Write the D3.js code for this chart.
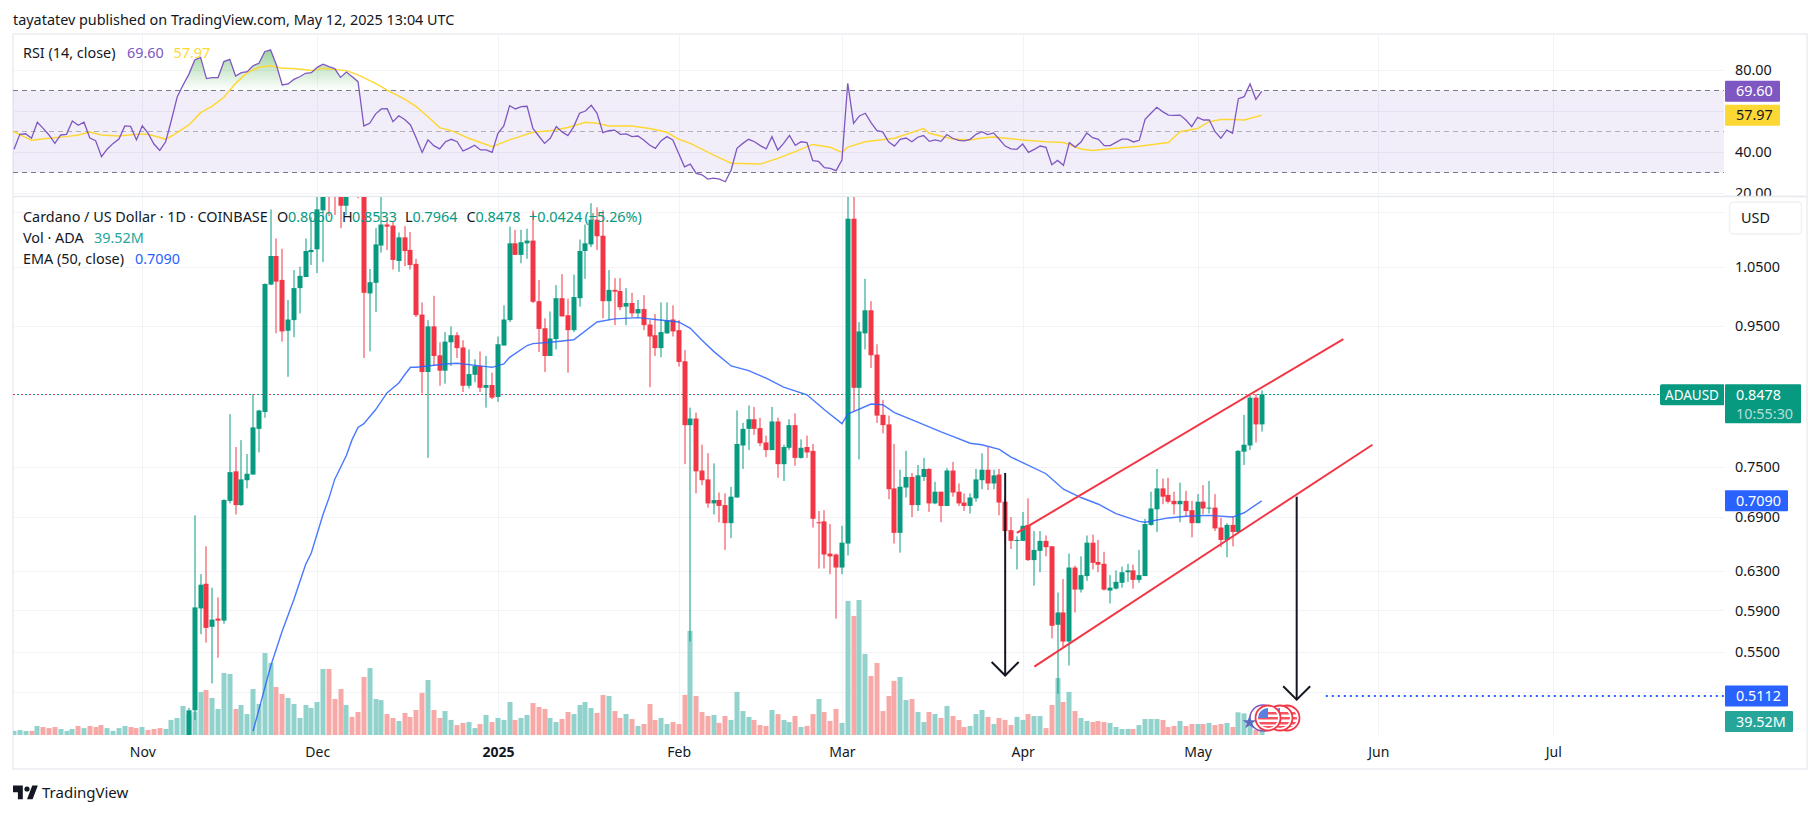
<!DOCTYPE html>
<html>
<head>
<meta charset="utf-8">
<script src="https://cdn.jsdelivr.net/npm/d3@7"></script>
<style>
html, body { margin: 0; padding: 0; background: #fff; }
svg { display: block; }
text { font-family: "Noto Sans", sans-serif; }
</style>
</head>
<body>
<svg id="chart" width="1814" height="814"></svg>
<script>
// first day of the rsi and volume lists, candles start later (older ones sit below the pane)
var firstDay = Date.UTC(2024, 9, 10);
var candleFirstDay = Date.UTC(2024, 10, 9);

var opens = [
	.465,.499,.592,.617,.574,.582,.580,.709,.745,.704,.734,.741,.800,.823,1.019,1.069,1.027,.943,.960,1.013,
	1.032,1.076,1.081,1.154,1.24,1.20,1.21,1.163,1.19,1.25,1.20,1.004,1.022,1.088,1.127,1.125,1.060,1.103,1.080,1.055,
	.969,.880,.950,.905,.882,.925,.936,.917,.860,.876,.889,.857,.861,.844,.920,.960,1.092,1.071,1.092,1.097,
	.991,.947,.904,.930,.996,.968,.944,.996,1.078,1.090,1.136,1.106,.991,1.010,1.008,.982,.988,.971,.978,.953,
	.936,.916,.939,.961,.944,.896,.805,.814,.746,.735,.706,.710,.704,.683,.713,.778,.800,.813,.801,.782,
	.772,.810,.754,.775,.805,.762,.776,.771,.684,.685,.649,.648,.634,.660,1.138,.857,.939,.976,.906,.819,
	.806,.724,.672,.725,.738,.704,.738,.748,.706,.720,.703,.746,.720,.707,.703,.712,.734,.747,.730,.741,
	.708,.675,.663,.663,.681,.642,.652,.663,.657,.576,.588,.560,.634,.611,.625,.661,.640,.638,.610,.612,
	.618,.629,.631,.621,.625,.681,.699,.724,.716,.709,.705,.709,.698,.683,.708,.700,.701,.678,.664,.681,
	.673,.770,.778,.843,.8060
];
var highs = [
	.501,.692,.627,.657,.613,.603,.711,.820,.776,.785,.767,.848,.826,1.021,1.156,1.101,1.082,.993,1.044,1.050,
	1.101,1.141,1.19,1.28,1.33,1.28,1.25,1.25,1.26,1.27,1.22,1.046,1.120,1.18,1.136,1.134,1.112,1.124,1.113,1.064,
	.989,.960,1.000,.925,.941,.950,.941,.928,.914,.899,.911,.904,.879,.934,.984,1.123,1.117,1.117,1.119,1.154,
	1.027,.963,.974,1.018,1.037,.995,1.036,1.099,1.127,1.168,1.160,1.154,1.044,1.030,1.030,1.013,1.005,.993,1.001,.960,
	.970,.989,.989,.984,.960,.913,.829,.822,.779,.768,.755,.719,.718,.726,.825,.808,.832,.830,.815,.791,
	.830,.815,.779,.813,.821,.786,.791,.780,.697,.698,.682,.649,.680,1.20,1.19,.957,1.029,.991,.922,.840,
	.818,.780,.747,.771,.743,.753,.762,.749,.732,.720,.749,.757,.730,.718,.718,.748,.768,.776,.747,.748,
	.714,.690,.668,.696,.712,.674,.674,.669,.657,.608,.622,.649,.636,.646,.669,.670,.664,.651,.626,.631,
	.635,.638,.637,.653,.688,.720,.748,.736,.737,.720,.731,.721,.709,.717,.728,.733,.717,.689,.683,.691,
	.772,.819,.848,.848,.8533
];
var lows = [
	.460,.491,.567,.559,.522,.545,.577,.706,.693,.703,.724,.741,.769,.815,1.018,.939,.926,.873,.933,.971,
	1.032,1.053,1.039,1.058,1.143,1.145,1.120,1.145,1.185,1.178,.901,.911,.973,1.075,1.080,1.045,1.041,1.051,1.045,.965,
	.849,.762,.889,.860,.863,.889,.901,.851,.856,.865,.851,.829,.841,.837,.920,.957,1.071,1.056,1.064,.988,
	.910,.880,.904,.914,.966,.879,.941,.982,1.029,1.085,1.080,.963,.960,.952,.976,.952,.965,.965,.944,.858,
	.904,.902,.938,.934,.888,.754,.560,.718,.728,.701,.693,.684,.653,.666,.713,.748,.772,.792,.777,.763,
	.772,.737,.733,.772,.752,.761,.762,.678,.633,.633,.627,.582,.627,.647,.823,.760,.914,.886,.808,.794,
	.711,.660,.650,.713,.690,.697,.733,.696,.705,.684,.703,.714,.703,.697,.694,.708,.723,.722,.723,.692,
	.660,.654,.632,.663,.641,.615,.629,.646,.563,.513,.555,.538,.588,.608,.620,.632,.629,.610,.597,.611,
	.613,.619,.612,.618,.625,.680,.673,.705,.706,.693,.684,.691,.667,.683,.693,.694,.674,.656,.645,.657,
	.673,.753,.772,.782,.7964
];
var closes = [
	.499,.593,.616,.573,.581,.580,.710,.744,.704,.735,.742,.802,.825,1.020,1.069,1.024,.942,.961,1.013,1.034,
	1.078,1.080,1.156,1.24,1.20,1.19,1.163,1.19,1.22,1.20,1.005,1.023,1.090,1.127,1.123,1.062,1.103,1.078,1.053,.968,
	.880,.950,.904,.882,.926,.936,.916,.860,.877,.889,.857,.861,.843,.922,.961,1.092,1.071,1.094,1.097,.990,
	.946,.904,.931,.996,.966,.944,.998,1.078,1.092,1.136,1.105,.991,1.010,1.007,.981,.988,.971,.978,.952,.934,
	.916,.941,.960,.942,.895,.805,.814,.745,.734,.706,.710,.703,.683,.714,.780,.800,.813,.800,.781,.772,
	.810,.754,.776,.805,.762,.775,.769,.688,.683,.648,.646,.634,.661,1.138,.857,.942,.976,.905,.818,.805,
	.723,.672,.726,.738,.704,.740,.748,.706,.720,.703,.746,.719,.706,.703,.713,.735,.747,.730,.740,.707,
	.674,.663,.664,.680,.642,.653,.663,.656,.575,.588,.560,.634,.611,.626,.661,.639,.637,.611,.613,.619,
	.629,.631,.621,.626,.682,.700,.724,.714,.708,.705,.709,.697,.683,.708,.700,.701,.677,.664,.681,.673,
	.771,.779,.843,.806,.8478
];

// millions of ADA, one per day from firstDay
var volumes = [
	23,28,23,23,51,45,39,45,34,23,34,51,39,51,45,56,39,23,39,51,45,39,
	45,28,34,39,34,85,96,164,113,132,243,254,209,147,350,344,147,169,118,259,175,462,406,271,231,209,175,96,169,152,
	186,372,372,203,259,169,102,130,327,378,203,197,118,96,79,124,102,141,237,310,141,96,135,85,56,68,73,39,62,113,73,
	96,85,186,85,96,113,180,158,147,96,73,90,130,118,169,186,152,124,226,220,135,96,118,90,51,62,175,85,96,62,73,62,226,587,220,130,107,113,68,107,85,243,135,102,85,56,51,141,118,85,73,107,45,51,118,203,130,79,147,68,
	756,671,761,457,333,406,135,220,305,327,197,203,130,73,130,118,96,164,107,85,45,51,118,141,102,62,96,85,56,102,
	85,118,107,107,39,169,321,186,243,135,96,79,73,79,73,68,45,34,34,34,56,90,90,90,85,45,51,79,51,62,
	62,62,68,56,62,68,45,128,122,75,30,39.52
];
var volumeUp = [
	1,1,1,0,1,0,0,0,1,1,1,0,1,0,0,0,1,1,1,1,0,0,
	1,0,0,0,1,1,1,1,1,1,1,0,1,1,1,1,0,1,1,1,1,1,1,0,0,1,1,1,1,1,
	1,1,0,0,0,1,0,0,0,1,1,1,0,0,1,0,0,0,0,1,0,0,1,1,0,0,1,1,0,1,0,
	1,1,1,0,1,1,0,0,0,1,1,0,0,1,1,1,1,0,0,1,0,0,1,0,1,0,0,0,1,1,0,0,0,1,0,0,0,1,0,0,1,1,1,1,0,0,0,1,0,1,1,0,1,0,0,1,0,0,0,1,
	1,0,1,1,0,0,0,0,0,1,1,0,1,1,0,1,0,1,0,0,0,1,1,1,0,1,0,0,0,1,
	1,0,1,1,0,0,1,0,1,0,1,1,0,0,0,1,1,1,1,0,1,1,1,1,0,0,0,1,0,0,
	1,0,1,0,0,1,0,1,1,1,0,1
];

var rsiValues = [
	41.3,48.6,48.9,46.7,54.5,51.5,48.3,44.2,48.3,48.6,55.1,53.0,54.5,46.8,45.5,37.7,41.5,44.2,46.3,52.7,52.5,45.9,
	52.8,49.1,43.9,40.8,45.0,55.6,67.0,72.7,78.0,84.9,86.2,75.8,76.3,76.3,84.1,85.2,77.1,78.7,79.2,82.1,83.3,88.9,89.8,82.4,72.7,73.2,75.4,76.7,78.4,78.7,
	81.3,82.8,81.6,80.7,76.4,79.0,76.7,74.3,52.7,54.0,58.5,61.0,61.1,54.8,57.7,55.9,53.2,46.7,39.8,45.9,43.1,41.5,45.0,46.2,45.0,40.5,41.8,43.3,41.0,41.0,39.8,
	49.1,52.7,62.6,61.0,62.1,62.3,51.5,47.8,44.2,46.8,52.4,49.8,48.0,52.4,58.9,60.0,62.8,58.9,49.4,50.4,50.7,48.6,48.8,47.5,47.8,45.9,43.4,41.8,45.5,47.5,45.9,39.3,32.8,34.1,29.6,28.9,26.8,27.3,26.8,25.5,31.2,41.8,44.2,46.2,45.0,43.1,41.5,47.5,41.0,44.2,48.1,43.3,45.0,44.6,35.8,35.4,32.4,32.0,30.9,36.1,
	73.5,54.0,57.6,58.9,54.3,50.4,49.8,45.0,42.9,46.2,46.8,45.0,47.2,48.0,45.2,45.9,45.2,48.5,46.7,45.7,45.4,46.2,48.6,49.9,48.5,49.3,46.2,42.9,41.5,41.3,
	43.9,39.8,41.3,42.9,42.3,33.8,35.9,33.5,44.6,42.4,44.9,49.3,47.0,46.2,43.1,43.1,44.7,46.3,46.3,44.9,45.7,55.9,58.9,61.8,59.7,58.0,57.9,58.0,55.6,52.4,
	56.9,55.6,55.6,49.9,46.7,50.7,49.1,66.0,67.0,73.2,65.7,69.60
];

var rsiMaDays = [0,3,6,9,11,13,15,18,21,23,26,27,30,32,34,36,38,40,42,44,46,48,51,53,55,57,59,62,64,67,69,71,73,75,78,82,85,89,92,95,98,100,102,106,109,112,114,116,120,123,128,131,134,137,140,142,143,146,151,156,157,161,164,166,168,173,177,180,183,185,188,193,198,200,203,205,207,209,211,214];
var rsiMaValues = [49.9,45.7,46.7,47.5,48.3,49.8,48.3,47.8,48.6,48.6,46.3,47.8,53.2,59.2,62.4,66.7,73.5,78.7,81.3,82.1,80.8,80.7,79.7,80.8,80.3,79.7,77.6,73.5,70.2,65.8,62.1,57.2,51.9,50.4,46.7,42.6,45.9,49.6,50.4,52.0,54.5,54.0,52.7,52.7,51.5,49.6,46.2,44.2,38.5,34.5,34.1,36.9,40.2,43.7,42.3,39.8,42.4,45.0,46.7,51.4,49.1,46.3,45.9,46.8,47.3,45.9,45.0,44.6,41.5,40.7,41.6,42.8,44.6,49.9,51.5,54.8,55.9,55.9,55.6,57.97];
var emaDays = [41,44,46,48,50,51,53,54,55,57,58,59,60,62,64,66,67,68,69,74,76,81,82,84,85,88,89,92,96,100,103,107,110,114,116,118,120,123,126,129,132,136,139,142,143,147,149,151,155,159,161,164,166,169,171,173,177,180,183,186,189,193,194,198,201,205,209,211,214];
var emaValues = [.482,.537,.570,.601,.637,.650,.693,.712,.735,.765,.786,.802,.807,.826,.850,.864,.876,.887,.887,.892,.893,.888,.887,.892,.902,.920,.923,.925,.929,.957,.962,.964,.961,.957,.947,.928,.911,.889,.882,.871,.858,.847,.826,.807,.820,.834,.833,.822,.809,.796,.790,.781,.779,.773,.763,.756,.742,.723,.713,.705,.694,.685,.684,.689,.691,.692,.690,.695,.7090];

// grid lines; the scale hides the labels of the ones sitting under a tag
var rsiTicks = [80, 60, 40, 20];
var rsiLabels = [80, 40, 20];
var rsiLevels = [70, 50, 30];
var priceTicks = [1.15, 1.05, 0.95, 0.75, 0.69, 0.63, 0.59, 0.55, 0.515];
var priceLabels = [1.05, 0.95, 0.75, 0.69, 0.63, 0.59, 0.55];
var monthTicks = [[2024,10,'Nov'],[2024,11,'Dec'],[2025,0,'2025'],[2025,1,'Feb'],[2025,2,'Mar'],[2025,3,'Apr'],[2025,4,'May'],[2025,5,'Jun'],[2025,6,'Jul']];

// drawings on the chart, as day and price
var upperChannel = [[Date.UTC(2025,2,31), .672], [Date.UTC(2025,4,26), .930]];
var lowerChannel = [[Date.UTC(2025,3,3), .537], [Date.UTC(2025,4,31), .779]];
var arrowOne = [Date.UTC(2025,2,29), .743, .529];
var arrowTwo = [Date.UTC(2025,4,18), .714, .508];
var targetPrice = 0.5112, targetFrom = Date.UTC(2025,4,23);
var lastPrice = 0.8478, lastRsi = 69.60, lastRsiMa = 57.97, lastEma = 0.7090;

var GREEN = '#089981', RED = '#f23645', BLUE = '#2962ff', PURPLE = '#7e57c2', YELLOW = '#fdd835', INK = '#131722', GRID = '#f2f3f6';
var FONT = 14.4;

var left = 13, right = 1724, rsiTop = 34, rsiBottom = 196, priceTop = 197, priceBottom = 735;
var frameRight = 1807, frameBottom = 769;

var svg = d3.select('#chart');
var defs = svg.append('defs');

var x = d3.scaleUtc().domain([Date.UTC(2024,10,1), Date.UTC(2025,4,12)]).range([142.3, 1261.7]);
var yRsi = d3.scaleLinear().domain([80, 20]).range([70, 193]);
var yPrice = d3.scaleLog().domain([1.05, 0.55]).range([266.7, 652.3]);
var yVol = d3.scaleLinear().domain([0, 761]).range([priceBottom, 600]);

function dayAt(start, i){ return d3.utcDay.offset(new Date(start), i); }
function rounded(v){ return Math.round(v) + 0.5; }

defs.append('clipPath').attr('id', 'clip-rsi').append('rect')
	.attr('x', left).attr('y', rsiTop).attr('width', right - left).attr('height', rsiBottom - rsiTop);
defs.append('clipPath').attr('id', 'clip-price').append('rect')
	.attr('x', left).attr('y', priceTop).attr('width', right - left).attr('height', priceBottom - priceTop);

var glow = defs.append('linearGradient').attr('id', 'overbought')
	.attr('gradientUnits', 'userSpaceOnUse')
	.attr('x1', 0).attr('x2', 0).attr('y1', yRsi(90)).attr('y2', yRsi(70));
glow.append('stop').attr('offset', 0).attr('stop-color', '#4caf50').attr('stop-opacity', 0.55);
glow.append('stop').attr('offset', 1).attr('stop-color', '#4caf50').attr('stop-opacity', 0);

// frame
svg.append('rect').attr('x', 13).attr('y', 34).attr('width', frameRight - 13).attr('height', frameBottom - 34)
	.attr('fill', '#fff').attr('stroke', '#f0f1f4').attr('stroke-width', 2);
svg.append('line').attr('x1', 13).attr('x2', frameRight).attr('y1', 196.5).attr('y2', 196.5)
	.attr('stroke', '#e8e9ed').attr('stroke-width', 1.5);

// grid
var monthDates = monthTicks.map(function(m){ return new Date(Date.UTC(m[0], m[1], 1)); });

function vGrid(top, bottom){
	var g = svg.append('g').attr('transform', 'translate(0,' + bottom + ')')
		.call(d3.axisBottom(x).tickValues(monthDates).tickSize(-(bottom - top)).tickFormat(''));
	g.select('.domain').remove();
	g.selectAll('line').attr('stroke', GRID).attr('shape-rendering', 'crispEdges');
}
function hGrid(scale, ticks){
	var g = svg.append('g').attr('transform', 'translate(' + right + ',0)')
		.call(d3.axisLeft(scale).tickValues(ticks).tickSize(right - left).tickFormat(''));
	g.select('.domain').remove();
	g.selectAll('line').attr('stroke', GRID).attr('shape-rendering', 'crispEdges');
}
vGrid(rsiTop, rsiBottom);
vGrid(priceTop, priceBottom);
hGrid(yRsi, rsiTicks);
hGrid(yPrice, priceTicks);

// rsi pane
var rsiPane = svg.append('g').attr('clip-path', 'url(#clip-rsi)');
rsiPane.append('rect')
	.attr('x', left).attr('width', right - left)
	.attr('y', yRsi(70)).attr('height', yRsi(30) - yRsi(70))
	.attr('fill', PURPLE).attr('fill-opacity', 0.1);
rsiPane.selectAll('.level').data(rsiLevels).enter().append('line')
	.attr('x1', left).attr('x2', right)
	.attr('y1', function(d){ return yRsi(d); })
	.attr('y2', function(d){ return yRsi(d); })
	.attr('stroke', function(d){ return d === 50 ? '#b2aeb8' : '#787b86'; })
	.attr('stroke-dasharray', '5,4');

var rsiPoints = rsiValues.map(function(v, i){ return { day: dayAt(firstDay, i), v: v }; });
rsiPane.append('path').datum(rsiPoints)
	.attr('fill', 'url(#overbought)')
	.attr('d', d3.area()
		.x(function(d){ return x(d.day); })
		.y0(yRsi(70))
		.y1(function(d){ return yRsi(Math.max(d.v, 70)); }));
rsiPane.append('path').datum(rsiMaDays.map(function(d, i){ return { day: dayAt(firstDay, d), v: rsiMaValues[i] }; }))
	.attr('fill', 'none').attr('stroke', YELLOW).attr('stroke-width', 1.5)
	.attr('d', d3.line().x(function(d){ return x(d.day); }).y(function(d){ return yRsi(d.v); }));
rsiPane.append('path').datum(rsiPoints)
	.attr('fill', 'none').attr('stroke', PURPLE).attr('stroke-width', 1.3)
	.attr('d', d3.line().x(function(d){ return x(d.day); }).y(function(d){ return yRsi(d.v); }));

// price pane
var pricePane = svg.append('g').attr('clip-path', 'url(#clip-price)');

pricePane.selectAll('.vol').data(volumes).enter().append('rect')
	.attr('x', function(d, i){ return Math.round(x(dayAt(firstDay, i))) - 2.5; })
	.attr('width', 5)
	.attr('y', function(d){ return yVol(d); })
	.attr('height', function(d){ return priceBottom - yVol(d); })
	.attr('fill', function(d, i){ return volumeUp[i] ? '#92d2cc' : '#f7a9a7'; });

// price line, red dots between teal ones up to the last candle
pricePane.append('line')
	.attr('x1', left).attr('x2', right)
	.attr('y1', yPrice(lastPrice)).attr('y2', yPrice(lastPrice))
	.attr('stroke', GREEN).attr('stroke-dasharray', '2,2').attr('shape-rendering', 'crispEdges');
pricePane.append('line')
	.attr('x1', left).attr('x2', x(dayAt(candleFirstDay, opens.length - 1)))
	.attr('y1', yPrice(lastPrice)).attr('y2', yPrice(lastPrice))
	.attr('stroke', RED).attr('stroke-dasharray', '2,6').attr('shape-rendering', 'crispEdges');

var candles = opens.map(function(o, i){
	return { day: dayAt(candleFirstDay, i), o: o, h: highs[i], l: lows[i], c: closes[i] };
});
var candle = pricePane.selectAll('.candle').data(candles).enter().append('g')
	.attr('fill', function(d){ return d.c >= d.o ? GREEN : RED; })
	.attr('stroke', function(d){ return d.c >= d.o ? GREEN : RED; });
candle.append('line')
	.attr('x1', function(d){ return rounded(x(d.day)) - 0.5; })
	.attr('x2', function(d){ return rounded(x(d.day)) - 0.5; })
	.attr('y1', function(d){ return yPrice(d.h); })
	.attr('y2', function(d){ return yPrice(d.l); })
	.attr('stroke-width', 1);
candle.append('rect')
	.attr('x', function(d){ return Math.round(x(d.day)) - 2.5; })
	.attr('width', 5)
	.attr('y', function(d){ return yPrice(Math.max(d.o, d.c)); })
	.attr('height', function(d){ return Math.max(1, Math.abs(yPrice(d.o) - yPrice(d.c))); })
	.attr('stroke', 'none');

pricePane.append('path').datum(emaDays.map(function(d, i){ return { day: dayAt(firstDay, d), v: emaValues[i] }; }))
	.attr('fill', 'none').attr('stroke', BLUE).attr('stroke-opacity', 0.85).attr('stroke-width', 1.4)
	.attr('d', d3.line().x(function(d){ return x(d.day); }).y(function(d){ return yPrice(d.v); }));

// drawings
[upperChannel, lowerChannel].forEach(function(c){
	pricePane.append('line')
		.attr('x1', x(new Date(c[0][0]))).attr('y1', yPrice(c[0][1]))
		.attr('x2', x(new Date(c[1][0]))).attr('y2', yPrice(c[1][1]))
		.attr('stroke', RED).attr('stroke-width', 2);
});
[arrowOne, arrowTwo].forEach(function(a){
	var ax = x(new Date(a[0])), ay = yPrice(a[2]);
	pricePane.append('line')
		.attr('x1', ax).attr('x2', ax).attr('y1', yPrice(a[1])).attr('y2', ay)
		.attr('stroke', INK).attr('stroke-width', 2);
	pricePane.append('path')
		.attr('d', 'M' + (ax - 13.5) + ',' + (ay - 13.5) + 'L' + ax + ',' + ay + 'L' + (ax + 13.5) + ',' + (ay - 13.5))
		.attr('fill', 'none').attr('stroke', INK).attr('stroke-width', 2);
});
pricePane.append('line')
	.attr('x1', x(new Date(targetFrom))).attr('x2', right)
	.attr('y1', yPrice(targetPrice)).attr('y2', yPrice(targetPrice))
	.attr('stroke', BLUE).attr('stroke-width', 2).attr('stroke-dasharray', '2,4');

// upcoming events badges
var badgeX = [1287, 1280, 1268], badgeY = 718;
defs.append('clipPath').attr('id', 'clip-flag').append('circle').attr('r', 10);
svg.append('circle').attr('cx', 1263).attr('cy', badgeY).attr('r', 13).attr('fill', 'none').attr('stroke', PURPLE).attr('stroke-width', 1.5);
svg.append('path').attr('transform', 'translate(1249.5,722.5)')
	.attr('d', d3.symbol().type(d3.symbolStar).size(60)).attr('fill', '#5c6bc0');
badgeX.forEach(function(bx){
	var b = svg.append('g').attr('transform', 'translate(' + bx + ',' + badgeY + ')');
	b.append('circle').attr('r', 12.5).attr('fill', '#fff').attr('stroke', RED).attr('stroke-width', 1.8);
	var f = b.append('g').attr('clip-path', 'url(#clip-flag)');
	f.append('rect').attr('x', -10).attr('y', -10).attr('width', 20).attr('height', 20).attr('fill', '#fff');
	[-6, -1, 4, 8].forEach(function(sy){
		f.append('rect').attr('x', -10).attr('y', sy).attr('width', 20).attr('height', 2.5).attr('fill', '#f7525f');
	});
	f.append('rect').attr('x', -10).attr('y', -10).attr('width', 10).attr('height', 10).attr('fill', '#5b7fe0');
});

// axes
var rsiAxis = svg.append('g').attr('transform', 'translate(1735,0)')
	.call(d3.axisRight(yRsi).tickValues(rsiLabels).tickSize(0).tickPadding(0).tickFormat(d3.format('.2f')));
var priceAxis = svg.append('g').attr('transform', 'translate(1735,0)')
	.call(d3.axisRight(yPrice).tickValues(priceLabels).tickSize(0).tickPadding(0).tickFormat(d3.format('.4f')));
[rsiAxis, priceAxis].forEach(function(g){
	g.select('.domain').remove();
	g.selectAll('text').attr('font-size', FONT).attr('fill', INK).style('font-family', '"Noto Sans", sans-serif');
});
// 20.00 is cut by the pane border
svg.append('rect').attr('x', 1726).attr('y', 196).attr('width', 70).attr('height', 5).attr('fill', '#fff');
svg.append('line').attr('x1', 1724).attr('x2', frameRight).attr('y1', 196.5).attr('y2', 196.5)
	.attr('stroke', '#e8e9ed').attr('stroke-width', 1.5);

var dateAxis = svg.append('g').attr('transform', 'translate(0,747)')
	.call(d3.axisBottom(x).tickValues(monthDates).tickSize(0).tickPadding(0)
		.tickFormat(function(d, i){ return monthTicks[i][2]; }));
dateAxis.select('.domain').remove();
dateAxis.selectAll('text')
	.attr('font-size', 14).attr('fill', INK)
	.style('font-family', '"Noto Sans", sans-serif')
	.attr('font-weight', function(d, i){ return monthTicks[i][2] === '2025' ? 700 : 400; });

// value tags on the scale
function tag(y, h, w, fill, label, color){
	svg.append('rect').attr('x', 1725).attr('y', y).attr('width', w).attr('height', h).attr('rx', 1).attr('fill', fill);
	svg.append('text').attr('x', 1736).attr('y', y + 15.5).attr('font-size', FONT).attr('fill', color).text(label);
}
tag(yRsi(lastRsi) - 10.5, 21, 55, PURPLE, '69.60', '#fff');
tag(yRsi(lastRsiMa) - 10.5, 21, 55, YELLOW, '57.97', INK);
tag(yPrice(lastEma) - 10.5, 21, 63, BLUE, '0.7090', '#fff');
tag(yPrice(targetPrice) - 10.5, 21, 63, BLUE, '0.5112', '#fff');
tag(711, 21, 68, '#26a69a', '39.52M', '#fff');

var lastY = yPrice(lastPrice);
svg.append('rect').attr('x', 1725).attr('y', lastY - 10).attr('width', 76).attr('height', 39).attr('rx', 1).attr('fill', GREEN);
svg.append('text').attr('x', 1736).attr('y', lastY + 5.5).attr('font-size', FONT).attr('fill', '#fff').text('0.8478');
svg.append('text').attr('x', 1736).attr('y', lastY + 24.5).attr('font-size', FONT).attr('fill', '#fff').attr('fill-opacity', 0.7).text('10:55:30');
svg.append('path').attr('d', 'M1724,' + (lastY - 10) + 'H1662a2,2 0 0 0 -2,2V' + (lastY + 9) + 'a2,2 0 0 0 2,2H1724Z').attr('fill', GREEN);
svg.append('text').attr('x', 1665).attr('y', lastY + 5.5).attr('font-size', 13.5).attr('fill', '#fff').text('ADAUSD');

svg.append('rect').attr('x', 1729.5).attr('y', 202).attr('width', 72).attr('height', 32).attr('rx', 4)
	.attr('fill', '#fff').attr('stroke', '#f0f1f4').attr('stroke-width', 1.5);
svg.append('text').attr('x', 1741).attr('y', 223).attr('font-size', FONT).attr('fill', INK).text('USD');

// legends
function legend(y, parts){
	parts.forEach(function(p){
		svg.append('text').attr('x', p[0]).attr('y', y).attr('font-size', FONT).attr('fill', p[2] || INK).text(p[1]);
	});
}
legend(58, [[23, 'RSI (14, close)'], [127, '69.60', PURPLE], [173.5, '57.97', YELLOW]]);
legend(221.5, [
	[23, 'Cardano / US Dollar · 1D · COINBASE'],
	[277, 'O'], [288, '0.8060', GREEN],
	[342, 'H'], [352, '0.8533', GREEN],
	[405, 'L'], [412.5, '0.7964', GREEN],
	[466.5, 'C'], [475.5, '0.8478', GREEN],
	[529, '+0.0424', GREEN], [584.5, '(+5.26%)', GREEN]
]);
legend(243, [[23, 'Vol · ADA'], [94, '39.52M', '#26a69a']]);
legend(263.5, [[23, 'EMA (50, close)'], [135, '0.7090', BLUE]]);

// header and footer
svg.append('text').attr('x', 13).attr('y', 25).attr('font-size', 14.4).attr('fill', INK)
	.text('tayatatev published on TradingView.com, May 12, 2025 13:04 UTC');
svg.append('path').attr('transform', 'translate(13,785.5) scale(0.7,0.62)')
	.attr('d', 'M14 22H7V11H0V0h14v22zM28 22h-8l7.5-22h8L28 22z').attr('fill', INK);
svg.append('circle').attr('cx', 27).attr('cy', 789).attr('r', 2.6).attr('fill', INK);
svg.append('text').attr('x', 42).attr('y', 798).attr('font-size', 15).attr('fill', INK).text('TradingView');
</script>
</body>
</html>
